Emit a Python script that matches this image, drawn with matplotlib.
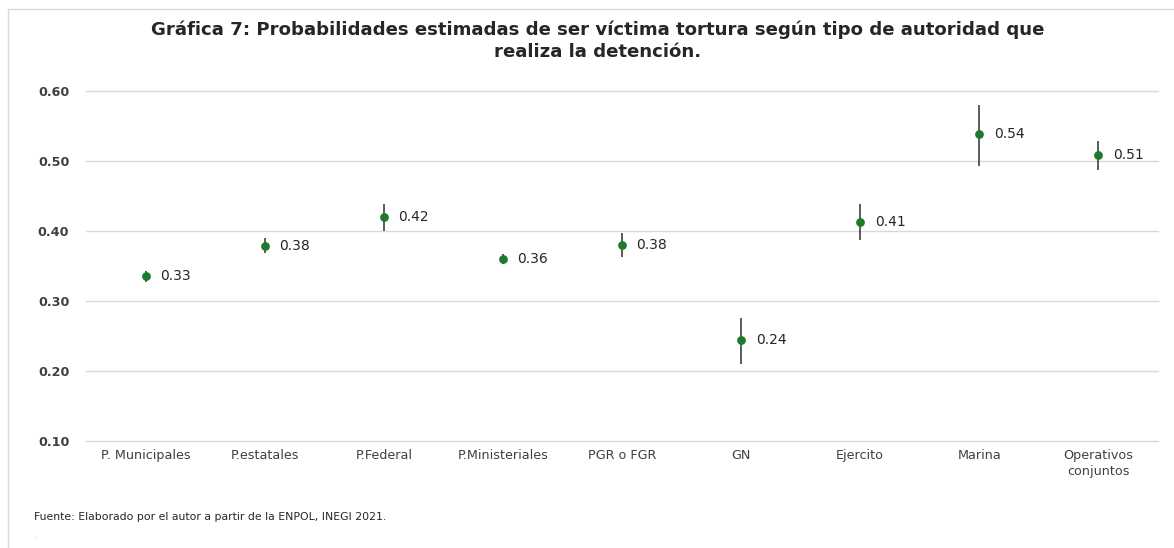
import matplotlib
matplotlib.use("Agg")
import matplotlib.pyplot as plt
from matplotlib.patches import Rectangle

plt.rcParams['font.family'] = ['DejaVu Sans']

categories = ["P. Municipales", "P.estatales", "P.Federal", "P.Ministeriales",
              "PGR o FGR", "GN", "Ejercito", "Marina", "Operativos\nconjuntos"]
prob = [0.336, 0.379, 0.420, 0.360, 0.380, 0.244, 0.413, 0.539, 0.509]
lower = [0.327, 0.369, 0.400, 0.353, 0.363, 0.210, 0.387, 0.493, 0.487]
upper = [0.343, 0.390, 0.439, 0.367, 0.397, 0.276, 0.439, 0.580, 0.529]
labels = ["0.33", "0.38", "0.42", "0.36", "0.38", "0.24", "0.41", "0.54", "0.51"]
yticks = [0.10, 0.20, 0.30, 0.40, 0.50, 0.60]

W, H = 1174, 548
fig = plt.figure(figsize=(W / 100, H / 100), dpi=100)
fig.patch.set_facecolor("white")

# light frame around the chart area (left and top edges visible)
fig.patches.append(Rectangle((8 / W, -0.05), 1.2, 1 - 9 / H + 0.05,
                             transform=fig.transFigure, fill=False,
                             edgecolor="#d9d9d9", linewidth=1.0))

ax = fig.add_axes([86 / W, 1 - 441 / H, (1158 - 86) / W, (441 - 91) / H])
x = list(range(len(categories)))

ax.set_xlim(-0.5, len(categories) - 0.5)
ax.set_ylim(0.10, 0.60)
ax.set_yticks(yticks)
ax.set_yticklabels([f"{v:.2f}" for v in yticks], fontsize=9.2,
                   color="#404040", fontweight="bold")
ax.set_xticks(x)
ax.set_xticklabels(categories, fontsize=9.2, color="#404040", linespacing=1.3)
ax.tick_params(axis="both", length=0)
ax.tick_params(axis="y", pad=12)
ax.tick_params(axis="x", pad=6)
ax.grid(axis="y", color="#d9d9d9", linewidth=1.0)
for gl in ax.yaxis.get_gridlines():
    gl.set_clip_on(False)
ax.set_axisbelow(True)
for s in ax.spines.values():
    s.set_visible(False)

for xi, p, lo, hi in zip(x, prob, lower, upper):
    ax.vlines(xi, lo, hi, color="#404040", linewidth=1.2, zorder=2)
ax.plot(x, prob, linestyle="none", marker="o", markersize=6.3,
        color="#1e7b2e", markeredgewidth=0, zorder=3)
for xi, p, t in zip(x, prob, labels):
    ax.annotate(t, (xi, p), xytext=(10.5, 0), textcoords="offset points",
                va="center", ha="left", fontsize=10, color="#262626")

fig.text(598 / W, 1 - 40.5 / H,
         "Gráfica 7: Probabilidades estimadas de ser víctima tortura según tipo de autoridad que\nrealiza la detención.",
         ha="center", va="center", fontsize=13.1, fontweight="bold",
         color="#262626", linespacing=1.27)
fig.text(34 / W, 1 - 517 / H,
         "Fuente: Elaborado por el autor a partir de la ENPOL, INEGI 2021.",
         ha="left", va="center", fontsize=7.8, color="#262626")
fig.text(35 / W, 1 - 537 / H, "-", ha="left", va="center",
         fontsize=5, color="#cccccc")

fig.savefig("out.png", dpi=100, facecolor="white")
